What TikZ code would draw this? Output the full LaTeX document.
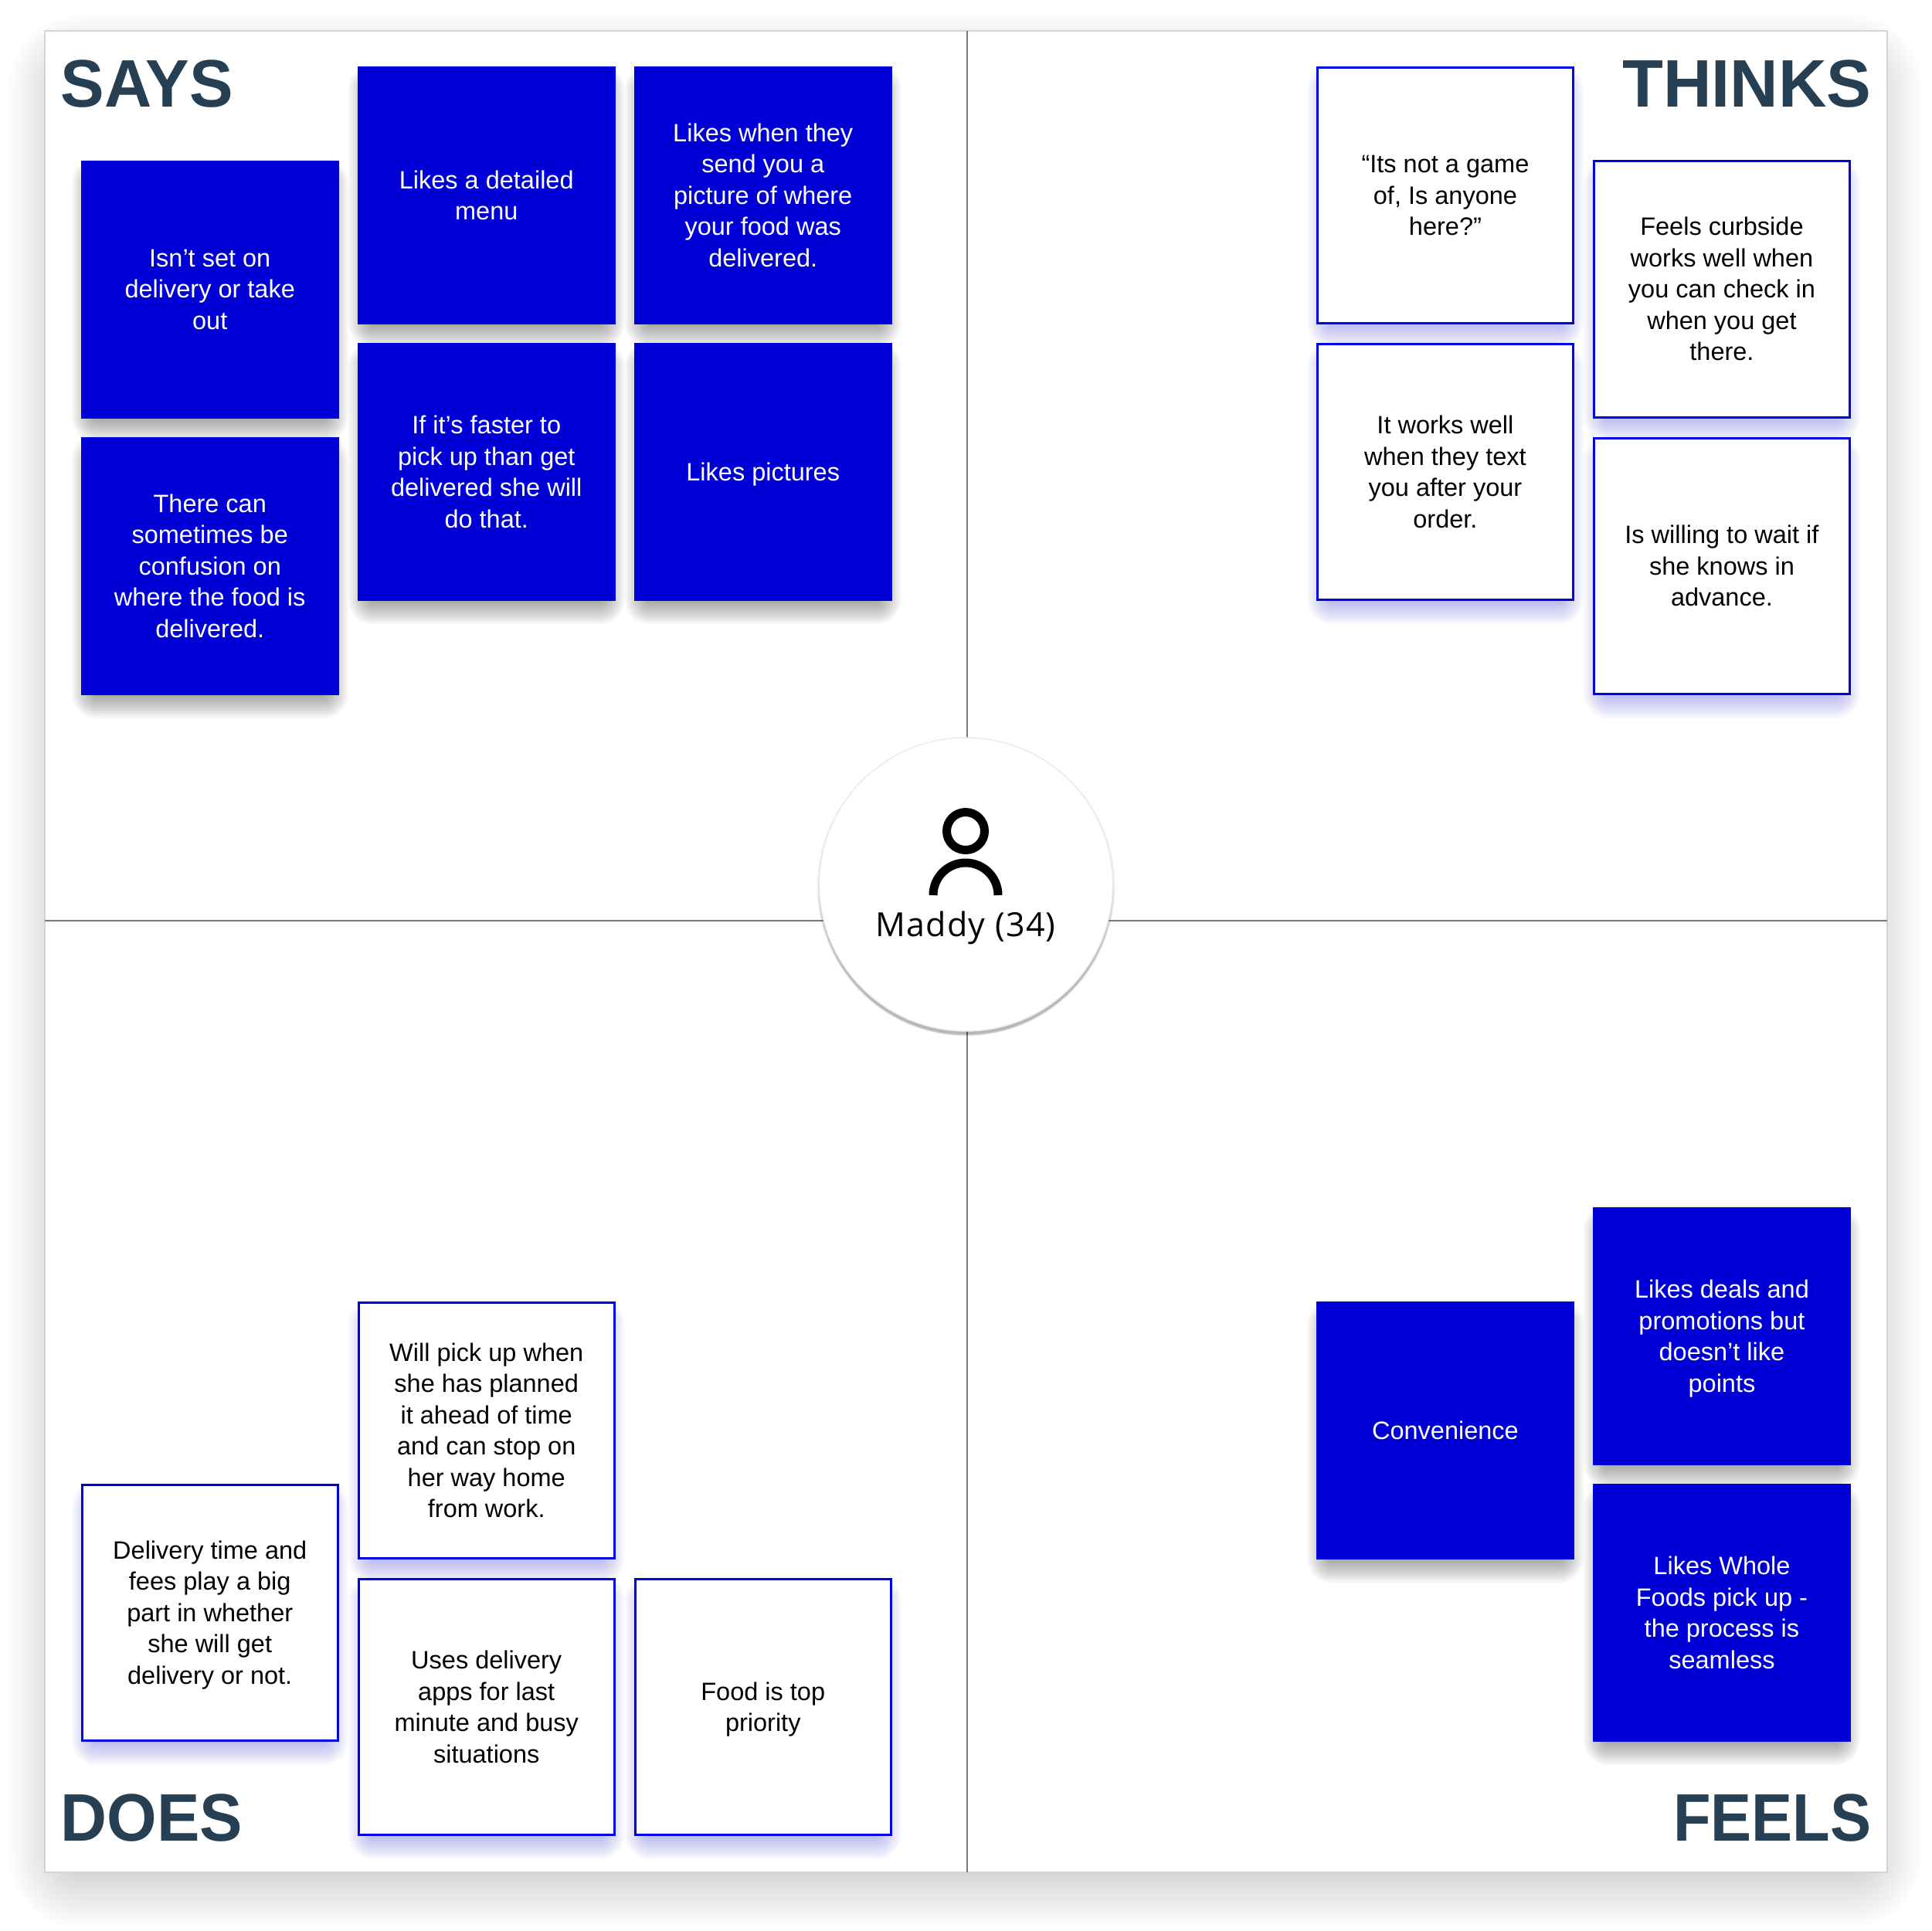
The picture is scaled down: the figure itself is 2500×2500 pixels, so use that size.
\documentclass[tikz,border=0pt]{standalone}
\usepackage{fontspec}
\setmainfont{Liberation Sans}
\newfontfamily\hubfont[LetterSpace=3]{Open Sans}
\pgfdeclarelayer{paper}
\pgfdeclarelayer{shad}
\pgfsetlayers{paper,shad,main}
\definecolor{cardblue}{HTML}{0000D6}
\definecolor{edgeblue}{HTML}{0000E0}
\definecolor{titleink}{HTML}{263F52}
\definecolor{ruleink}{HTML}{7A7A7A}
\definecolor{blueglow}{HTML}{2A2AD8}
\tikzset{
  cardbase/.style={rectangle,minimum width=333.5,minimum height=334,inner sep=0pt,align=center,
    font=\fontsize{32.5}{40.5}\selectfont},
  filledcard/.style={cardbase,fill=cardblue,text=white},
  outlinecard/.style={cardbase,fill=white,draw=edgeblue,line width=2.6pt,minimum width=331,minimum height=331.5,text=black},
  headline/.style={inner sep=0pt,text=titleink,font=\fontsize{87}{87}\selectfont\bfseries},
  quadrule/.style={draw=ruleink,line width=1.8pt},
  persona/.style={line width=11pt,draw=black},
}
\newcommand{\lst}{\rule[-9pt]{0pt}{40.5pt}}
% #1 x0, #2 y0, #3 x1, #4 y1, #5 colour, #6 y offset, #7 half spread, #8 layers, #9 layer opacity
\newcommand{\softbox}[9]{%
  \foreach \k in {1,...,#8}{%
    \pgfmathsetmacro{\dd}{#7*(1-2*(\k-1)/(#8-1))}%
    \pgfmathsetmacro{\rr}{max(0.5,\dd+#7)}%
    \fill[#5,opacity=#9,rounded corners=\rr pt] (#1-\dd,#2+#6-\dd) rectangle (#3+\dd,#4+#6+\dd);
  }}
% #1 name, #2 left, #3 top, #4 text
\newcommand{\filledat}[4]{%
  \begin{pgfonlayer}{shad}\softbox{#2+4}{#3}{#2+329.5}{#3+334}{black}{14}{16}{12}{0.034}\end{pgfonlayer}
  \node[filledcard] (#1) at (#2+166.75,#3+167) {\lst #4\lst};}
\newcommand{\outlineat}[4]{%
  \begin{pgfonlayer}{shad}\softbox{#2+4}{#3}{#2+329.5}{#3+334}{blueglow}{14}{16}{12}{0.030}\end{pgfonlayer}
  \node[outlinecard] (#1) at (#2+166.75,#3+167) {\lst #4\lst};}
\begin{document}
\begin{tikzpicture}[x=1pt,y=-1pt]
\useasboundingbox (0,0) rectangle (2500,2500);
\begin{pgfonlayer}{paper}
  \fill[white] (0,0) rectangle (2500,2500);
  \softbox{58}{40}{2442}{2423}{black}{26}{46}{18}{0.013}
  \node[rectangle,fill=white,draw=black!17,line width=1.2pt,minimum width=2385,minimum height=2384,inner sep=0pt] (panel) at (1250.5,1232) {};
\end{pgfonlayer}
\coordinate (topend) at (1251.6,40);
\coordinate (botend) at (1251.6,2424);
\coordinate (leftend) at (58,1191.6);
\coordinate (rightend) at (2443,1191.6);
\fill[black,opacity=0.05] (1250.5,1148) circle (193);
\fill[black,opacity=0.07] (1250.5,1149) circle (191.5);
\fill[black,opacity=0.09] (1250.5,1150) circle (190.5);
\fill[black,opacity=0.10] (1250.5,1149) circle (190);
\node[circle,fill=white,draw=black!8,line width=1.4pt,minimum size=380,inner sep=0pt] (hub) at (1250.5,1145) {};
\begin{pgfonlayer}{shad}
\draw[quadrule] (topend) -- (topend |- hub.center);
\draw[quadrule] (botend) -- (botend |- hub.center);
\draw[quadrule] (leftend) -- (leftend -| hub.center);
\draw[quadrule] (rightend) -- (rightend -| hub.center);
\end{pgfonlayer}
\draw[persona] (1250,1076) circle (24.5);
\draw[persona,line cap=butt] (1208,1159) arc[start angle=180,end angle=360,radius=42];
\node[anchor=base,inner sep=0pt,font=\hubfont\fontsize{43}{43}\selectfont,text=black] (who) at (1250,1212) {Maddy (34)};

\node[headline,anchor=base west,xscale=0.975] (says) at (78.5,138) {SAYS};
\node[headline,anchor=base east,xscale=0.995] (thinks) at (2422.5,138) {THINKS};
\node[headline,anchor=base west,xscale=0.955] (does) at (78.5,2383) {DOES};
\node[headline,anchor=base east,xscale=0.914] (feels) at (2422.5,2383) {FEELS};

\filledat{s1}{105}{207.5}{Isn’t set on\\delivery or take\\out}
\filledat{s2}{463}{86}{Likes a detailed\\menu}
\filledat{s3}{821}{86}{Likes when they\\send you a\\picture of where\\your food was\\delivered.}
\filledat{s4}{105}{566}{There can\\sometimes be\\confusion on\\where the food is\\delivered.}
\filledat{s5}{463}{444}{If it’s faster to\\pick up than get\\delivered she will\\do that.}
\filledat{s6}{821}{444}{Likes pictures}

\outlineat{t1}{1704.2}{86}{“Its not a game\\of, Is anyone\\here?”}
\outlineat{t2}{2062.2}{207.5}{Feels curbside\\works well when\\you can check in\\when you get\\there.}
\outlineat{t3}{1704.2}{444}{It works well\\when they text\\you after your\\order.}
\outlineat{t4}{2062.2}{566}{Is willing to wait if\\she knows in\\advance.}

\outlineat{d1}{105}{1921}{Delivery time and\\fees play a big\\part in whether\\she will get\\delivery or not.}
\outlineat{d2}{463}{1685}{Will pick up when\\she has planned\\it ahead of time\\and can stop on\\her way home\\from work.}
\outlineat{d3}{463}{2043}{Uses delivery\\apps for last\\minute and busy\\situations}
\outlineat{d4}{821}{2043}{Food is top\\priority}

\filledat{f1}{1704.2}{1685}{Convenience}
\filledat{f2}{2062.2}{1563}{Likes deals and\\promotions but\\doesn’t like\\points}
\filledat{f3}{2062.2}{1921}{Likes Whole\\Foods pick up -\\the process is\\seamless}
\end{tikzpicture}
\end{document}
